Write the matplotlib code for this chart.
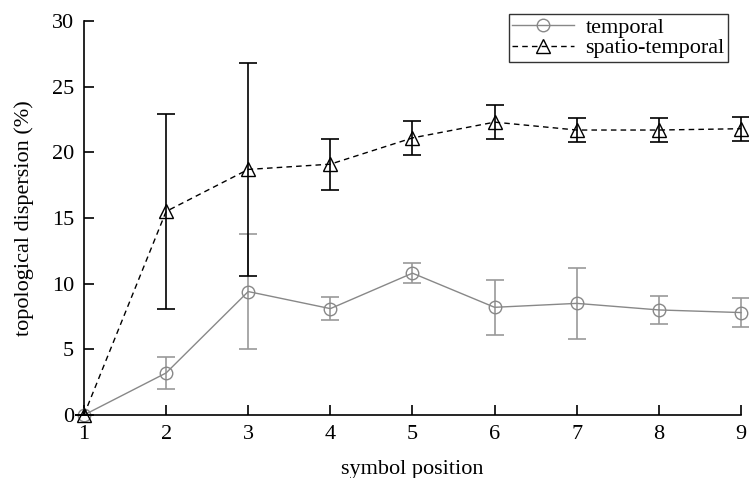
import matplotlib
matplotlib.use("Agg")
import matplotlib.pyplot as plt
from matplotlib.lines import Line2D

positions = [1, 2, 3, 4, 5, 6, 7, 8, 9]
temporal = [0, 3.2, 9.4, 8.1, 10.8, 8.2, 8.5, 8.0, 7.8]
temporal_err = [0, 1.25, 4.35, 0.85, 0.75, 2.1, 2.7, 1.05, 1.1]
spatio = [0, 15.5, 18.7, 19.1, 21.1, 22.3, 21.7, 21.7, 21.8]
spatio_err = [0, 7.4, 8.1, 1.95, 1.3, 1.3, 0.9, 0.9, 0.9]

plt.rcParams['font.family'] = ['Liberation Serif', 'DejaVu Serif']
plt.rcParams['font.size'] = 16

fig = plt.figure(figsize=(7.49, 4.78), dpi=100)
ax = fig.add_axes([0.1121, 0.1318, 0.8772, 0.8242])

gray = '#888888'
tstyle = dict(color=gray, marker='o', markersize=9, markerfacecolor='none',
              markeredgecolor=gray, linewidth=1.0)
sstyle = dict(color='black', marker='^', markersize=10, markerfacecolor='none',
              markeredgecolor='black', linewidth=1.0, linestyle=(0, (4, 3)))

ax.errorbar(positions, temporal, yerr=temporal_err, elinewidth=1.2,
            ecolor='#999999', capsize=6.5, capthick=1.2, clip_on=False,
            zorder=3, **tstyle)
ax.errorbar(positions, spatio, yerr=spatio_err, elinewidth=1.2, ecolor='black',
            capsize=6.5, capthick=1.2, clip_on=False, zorder=4, **sstyle)

ax.set_xlim(1, 9)
ax.set_ylim(0, 30)
ax.set_xticks(positions)
ax.set_yticks([0, 5, 10, 15, 20, 25, 30])
ax.spines['top'].set_visible(False)
ax.spines['right'].set_visible(False)
ax.spines['left'].set_linewidth(1.2)
ax.spines['bottom'].set_linewidth(1.2)
ax.tick_params(direction='in', length=7, width=1.2, pad=7)
ax.set_xlabel('symbol position', labelpad=12)
ax.set_ylabel('topological dispersion (%)', labelpad=13)

handles = [Line2D([], [], **tstyle), Line2D([], [], **sstyle)]
labels = ['temporal', 'spatio-temporal']
leg = ax.legend(handles, labels, loc='upper right',
                bbox_to_anchor=(728/749, 1 - 14/478),
                bbox_transform=fig.transFigure, frameon=True, fancybox=False,
                edgecolor='black', borderaxespad=0, handlelength=2.8,
                borderpad=0.15, labelspacing=0.0, handletextpad=0.5)
leg.get_frame().set_linewidth(1.0)

fig.savefig('out.png', dpi=100)
